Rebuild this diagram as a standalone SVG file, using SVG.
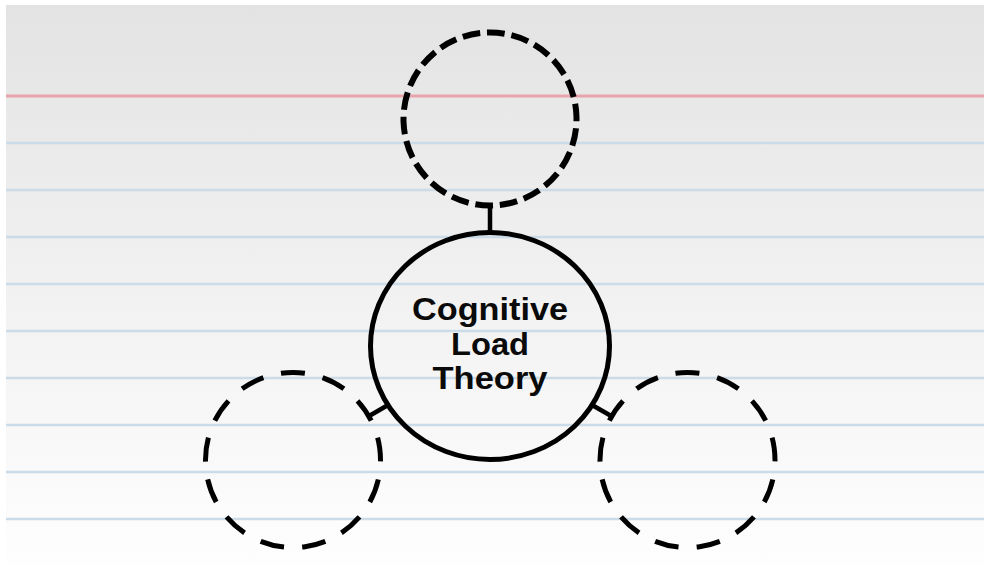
<svg xmlns="http://www.w3.org/2000/svg" width="984" height="565" viewBox="0 0 984 565">
  <defs>
    <linearGradient id="paper" x1="0" y1="0" x2="0" y2="1">
      <stop offset="0" stop-color="#e3e3e3"/>
      <stop offset="0.5" stop-color="#f1f1f1"/>
      <stop offset="1" stop-color="#fefefe"/>
    </linearGradient>
    <style>
      .rule { stroke: #cbdbe8; stroke-width: 2.6; }
      .margin { stroke: #e9a3ab; stroke-width: 3; }
      .hub { fill: none; stroke: #000; stroke-width: 5; }
      .slot { fill: none; stroke: #000; stroke-width: 5; }
      .slot-top { fill: none; stroke: #000; stroke-width: 6; }
      .link { stroke: #000; stroke-width: 4.5; fill: none; }
      .label { font-family: "Liberation Sans", Arial, sans-serif; font-weight: bold; font-size: 30.5px; fill: #0a0a0a; text-anchor: middle; }
    </style>
  </defs>

  <!-- paper background with ruled lines -->
  <rect x="0" y="0" width="984" height="565" fill="#ffffff"/>
  <rect x="6" y="5" width="978" height="560" fill="url(#paper)"/>
  <g id="ruling">
    <line class="margin" x1="6" y1="96" x2="984" y2="96"/>
    <line class="rule" x1="6" y1="143" x2="984" y2="143"/>
    <line class="rule" x1="6" y1="190" x2="984" y2="190"/>
    <line class="rule" x1="6" y1="237" x2="984" y2="237"/>
    <line class="rule" x1="6" y1="284" x2="984" y2="284"/>
    <line class="rule" x1="6" y1="331" x2="984" y2="331"/>
    <line class="rule" x1="6" y1="378" x2="984" y2="378"/>
    <line class="rule" x1="6" y1="425" x2="984" y2="425"/>
    <line class="rule" x1="6" y1="472" x2="984" y2="472"/>
    <line class="rule" x1="6" y1="519" x2="984" y2="519"/>
  </g>

  <!-- connectors from the hub to each empty slot -->
  <g id="connectors">
    <line class="link" x1="490" y1="205" x2="490" y2="233"/>
    <line class="link" x1="368.7" y1="416.2" x2="388.5" y2="404.8"/>
    <line class="link" x1="611.7" y1="416.3" x2="591.6" y2="404.8"/>
  </g>

  <!-- central topic -->
  <g id="hub">
    <ellipse class="hub" cx="490" cy="346" rx="119.5" ry="113.5"/>
    <text class="label" x="490" y="320" textLength="156" lengthAdjust="spacingAndGlyphs">Cognitive</text>
    <text class="label" x="490" y="355" textLength="78" lengthAdjust="spacingAndGlyphs">Load</text>
    <text class="label" x="490" y="389" textLength="115" lengthAdjust="spacingAndGlyphs">Theory</text>
  </g>

  <!-- empty slots -->
  <g id="slot-top">
    <circle class="slot-top" cx="490" cy="119" r="86.5" pathLength="22" stroke-dasharray="0.72 0.28" transform="rotate(88 490 119)"/>
  </g>
  <g id="slot-left">
    <circle class="slot" cx="293" cy="460" r="87.5" pathLength="13" stroke-dasharray="0.57 0.43" transform="rotate(-97.9 293 460)"/>
  </g>
  <g id="slot-right">
    <circle class="slot" cx="687.5" cy="460" r="87.5" pathLength="13" stroke-dasharray="0.57 0.43" transform="rotate(-97.9 687.5 460)"/>
  </g>
</svg>
